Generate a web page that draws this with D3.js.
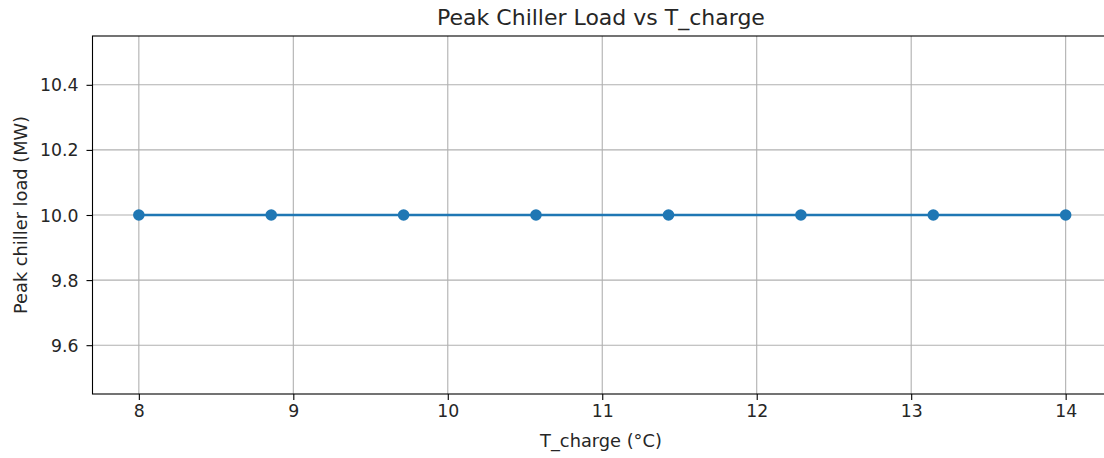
<!DOCTYPE html>
<html>
<head>
<meta charset="utf-8">
<script src="https://cdn.jsdelivr.net/npm/d3@7"></script>
<style>
  body { margin: 0; background: #fff; }
  svg { display: block; font-family: "DejaVu Sans", sans-serif; }
</style>
</head>
<body>
<div id="chart"></div>
<script>
// Data
const tCharge = [8, 8.857, 9.714, 10.571, 11.429, 12.286, 13.143, 14]
const peakLoad = [10, 10, 10, 10, 10, 10, 10, 10]
const xTicks = [8, 9, 10, 11, 12, 13, 14]
const yTicks = [9.6, 9.8, 10.0, 10.2, 10.4]

const width = 1104, height = 458
const m = { left: 92.5, top: 36, bottom: 394, right: 1112 }
const tickFont = 17.3

const svg = d3.select('#chart').append('svg')
  .attr('width', width)
  .attr('height', height)

const xScale = d3.scaleLinear().domain([7.7, 14.3]).range([m.left, m.right])
const yScale = d3.scaleLinear().domain([9.45, 10.55]).range([m.bottom, m.top])

// grid
svg.append('g').selectAll('line')
  .data(xTicks)
  .join('line')
  .attr('x1', d => xScale(d)).attr('x2', d => xScale(d))
  .attr('y1', m.top).attr('y2', m.bottom)
  .attr('stroke', '#b0b0b0').attr('stroke-width', 1.1)

svg.append('g').selectAll('line')
  .data(yTicks)
  .join('line')
  .attr('x1', m.left).attr('x2', m.right)
  .attr('y1', d => yScale(d)).attr('y2', d => yScale(d))
  .attr('stroke', '#b0b0b0').attr('stroke-width', 1.1)

// axes
const xAxis = d3.axisBottom(xScale).tickValues(xTicks).tickSize(6).tickPadding(5).tickFormat(d3.format('d'))
const yAxis = d3.axisLeft(yScale).tickValues(yTicks).tickSize(6).tickPadding(8).tickFormat(d3.format('.1f'))

svg.append('g')
  .attr('transform', `translate(0,${m.bottom})`)
  .call(xAxis)
  .call(g => g.select('.domain').remove())
  .call(g => g.attr('font-family', null).attr('font-size', tickFont))
  .call(g => g.selectAll('.tick line').attr('stroke', '#000').attr('stroke-width', 1.1))
  .call(g => g.selectAll('.tick text').attr('fill', '#262626'))

svg.append('g')
  .attr('transform', `translate(${m.left},0)`)
  .call(yAxis)
  .call(g => g.select('.domain').remove())
  .call(g => g.attr('font-family', null).attr('font-size', tickFont))
  .call(g => g.selectAll('.tick line').attr('stroke', '#000').attr('stroke-width', 1.1))
  .call(g => g.selectAll('.tick text').attr('fill', '#262626').attr('dy', '0.35em'))

// spines
svg.append('rect')
  .attr('x', m.left).attr('y', m.top)
  .attr('width', m.right - m.left).attr('height', m.bottom - m.top)
  .attr('fill', 'none').attr('stroke', '#000').attr('stroke-width', 1.1)

// line + markers
const line = d3.line()
  .x((d, i) => xScale(tCharge[i]))
  .y(d => yScale(d))

svg.append('path')
  .datum(peakLoad)
  .attr('d', line)
  .attr('fill', 'none')
  .attr('stroke', '#1f77b4')
  .attr('stroke-width', 2.4)

svg.append('g').selectAll('circle')
  .data(peakLoad)
  .join('circle')
  .attr('cx', (d, i) => xScale(tCharge[i]))
  .attr('cy', d => yScale(d))
  .attr('r', 5.8)
  .attr('fill', '#1f77b4')

// labels
svg.append('text')
  .attr('x', 601).attr('y', 25)
  .attr('text-anchor', 'middle')
  .attr('font-size', 22).attr('fill', '#262626')
  .text('Peak Chiller Load vs T_charge')

svg.append('text')
  .attr('x', 601).attr('y', 447)
  .attr('text-anchor', 'middle')
  .attr('font-size', 17.8).attr('fill', '#262626')
  .text('T_charge (°C)')

svg.append('text')
  .attr('transform', `translate(27,${(m.top + m.bottom) / 2}) rotate(-90)`)
  .attr('text-anchor', 'middle')
  .attr('font-size', 17.8).attr('fill', '#262626')
  .text('Peak chiller load (MW)')
</script>
</body>
</html>
